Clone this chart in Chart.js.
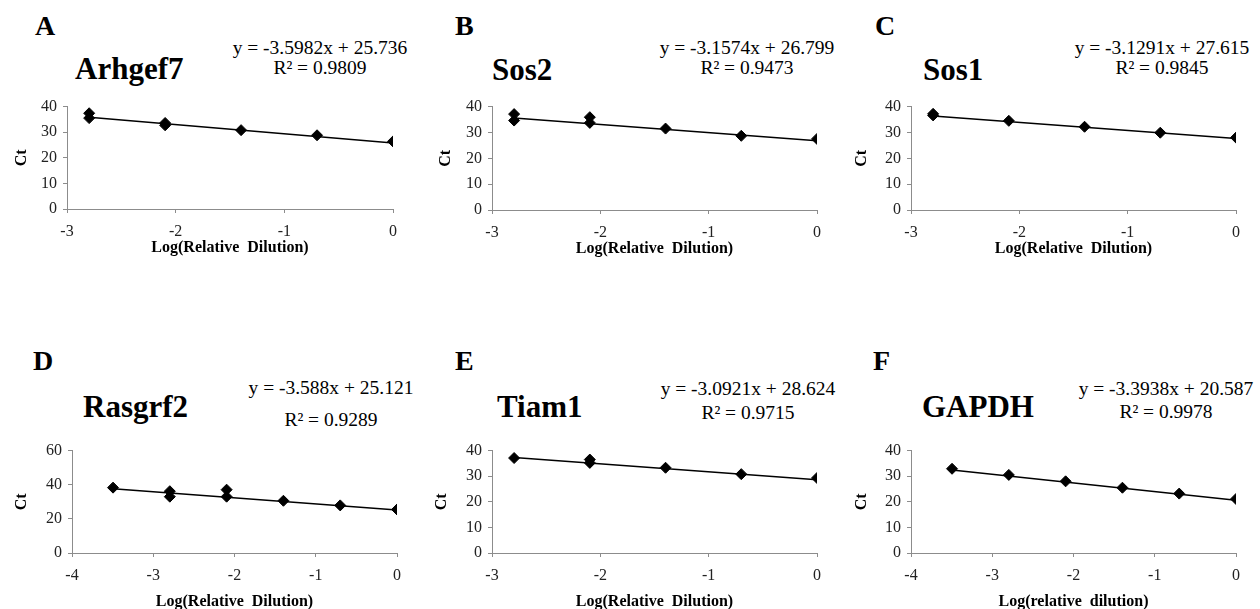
<!DOCTYPE html>
<html>
<head>
<meta charset="utf-8">
<script src="https://cdn.jsdelivr.net/npm/chart.js@4.4.0/dist/chart.umd.min.js"></script>
<style>
  html, body { margin: 0; padding: 0; background: #fff; overflow: hidden; }
  body { width: 1260px; height: 609px; position: relative; font-family: "Liberation Serif", Tinos, "Times New Roman", serif; color: #000; }
  .box { position: absolute; }
  .txt { position: absolute; line-height: 1; white-space: nowrap; }
  .bold { font-weight: bold; }
  .eq { width: 240px; text-align: center; font-size: 19.5px; }
</style>
</head>
<body>
<script>
// standard curves: Ct vs log of the 1:5 serial dilutions
const panelLetters = ["A", "B", "C", "D", "E", "F"];
const geneNames = ["Arhgef7", "Sos2", "Sos1", "Rasgrf2", "Tiam1", "GAPDH"];
const slopes = [-3.5982, -3.1574, -3.1291, -3.588, -3.0921, -3.3938];
const intercepts = [25.736, 26.799, 27.615, 25.121, 28.624, 20.587];
const rSquared = ["0.9809", "0.9473", "0.9845", "0.9289", "0.9715", "0.9978"];
const xTitles = ["Log(Relative  Dilution)", "Log(Relative  Dilution)", "Log(Relative  Dilution)",
                 "Log(Relative  Dilution)", "Log(Relative  Dilution)", "Log(relative  dilution)"];
const xMins = [-3, -3, -3, -4, -3, -4];
const yMaxes = [40, 40, 40, 60, 40, 40];
const ySteps = [10, 10, 10, 20, 10, 10];

const logDilA = [-2.796, -2.796, -2.097, -2.097, -1.398, -0.699, 0];
const ctA = [37.4, 35.5, 33.6, 32.7, 30.8, 28.8, 26.4];

const logDilB = [-2.796, -2.796, -2.097, -2.097, -1.398, -0.699, 0];
const ctB = [37.1, 34.6, 35.9, 33.7, 31.5, 28.7, 27.5];

const logDilC = [-2.796, -2.796, -2.097, -1.398, -0.699, 0];
const ctC = [37.2, 36.6, 34.5, 32.2, 29.9, 28.0];

const logDilD = [-3.495, -2.796, -2.796, -2.097, -2.097, -1.398, -0.699, 0];
const ctD = [38.3, 36.2, 33.0, 37.1, 33.0, 30.6, 27.9, 25.5];

const logDilE = [-2.796, -2.097, -2.097, -1.398, -0.699, 0];
const ctE = [37.1, 36.5, 35.2, 33.3, 30.8, 29.3];

const logDilF = [-3.495, -2.796, -2.097, -1.398, -0.699, 0];
const ctF = [32.9, 30.5, 28.0, 25.5, 23.2, 21.1];

const xSets = [logDilA, logDilB, logDilC, logDilD, logDilE, logDilF];
const ySets = [ctA, ctB, ctC, ctD, ctE, ctF];

// page geometry of each plot (axis lines) and its text
const frames = [
  { axL: 67,  axR: 393,  top: 103, bot: 209, ctX: 22,  row: 0 },
  { axL: 492, axR: 817,  top: 103, bot: 210, ctX: 446, row: 0 },
  { axL: 911, axR: 1236, top: 103, bot: 210, ctX: 862, row: 0 },
  { axL: 72,  axR: 397,  top: 447, bot: 553, ctX: 22,  row: 1 },
  { axL: 492, axR: 817,  top: 447, bot: 553, ctX: 442, row: 1 },
  { axL: 911, axR: 1236, top: 447, bot: 553, ctX: 862, row: 1 }
];
const letterPos = [[35, 12], [455, 12], [875, 12], [33, 347], [455, 347], [873, 347]];
const titlePos = [[75, 53], [492, 54], [923, 54], [83, 391], [497, 391], [922, 391]];
const eqPos = [[320, 38, 58], [747, 38, 58], [1162, 38, 58], [331, 378, 410], [748, 379, 403], [1166, 379, 402]];

Chart.defaults.font.family = '"Liberation Serif", Tinos, "Times New Roman", serif';
Chart.defaults.color = "#222";

function addText(cls, text, x, y, size) {
  const d = document.createElement("div");
  d.className = "txt " + cls;
  d.textContent = text;
  d.style.left = x + "px";
  d.style.top = y + "px";
  if (size) d.style.fontSize = size + "px";
  document.body.appendChild(d);
  return d;
}

function drawPanel(g, i) {
  addText("bold", panelLetters[i], letterPos[i][0], letterPos[i][1], 28);
  addText("bold", geneNames[i], titlePos[i][0], titlePos[i][1], 31);
  addText("eq", `y = ${slopes[i]}x + ${intercepts[i]}`, eqPos[i][0] - 120, eqPos[i][1]);
  addText("eq", `R² = ${rSquared[i]}`, eqPos[i][0] - 120, eqPos[i][2]);

  const yw = g.axL - g.ctX + 15;
  const xh = g.row ? 57 : 50;
  const padTop = 12, padRight = 20;
  const w = g.axR - g.ctX + 15 + padRight;
  const h = g.bot - g.top + padTop + xh;

  const wrap = document.createElement("div");
  wrap.className = "box";
  wrap.style.left = (g.ctX - 15) + "px";
  wrap.style.top = (g.top - padTop) + "px";
  const cv = document.createElement("canvas");
  cv.width = w;
  cv.height = h;
  cv.style.width = w + "px";
  cv.style.height = h + "px";
  wrap.appendChild(cv);
  document.body.appendChild(wrap);

  const xs = xSets[i], ys = ySets[i];
  const pts = xs.map((x, k) => ({ x, y: ys[k] }));
  const x0 = Math.min(...xs), x1 = Math.max(...xs);
  const fit = [x0, x1].map(x => ({ x, y: slopes[i] * x + intercepts[i] }));

  const axisGrey = "#8c8c8c";
  new Chart(cv, {
    type: "scatter",
    data: {
      datasets: [
        {
          data: pts,
          pointStyle: "rectRot",
          pointRadius: 5.5,
          pointBackgroundColor: "#000",
          pointBorderColor: "#000",
          pointBorderWidth: 1
        },
        {
          type: "line",
          data: fit,
          borderColor: "#000",
          borderWidth: 1.5,
          pointRadius: 0,
          fill: false
        }
      ]
    },
    options: {
      responsive: false,
      animation: false,
      devicePixelRatio: 1,
      layout: { padding: { left: 0, top: padTop, right: padRight, bottom: 0 } },
      plugins: { legend: { display: false }, tooltip: { enabled: false } },
      scales: {
        x: {
          type: "linear",
          min: xMins[i],
          max: 0,
          ticks: { stepSize: 1, font: { size: 16 }, padding: 9 },
          grid: { drawOnChartArea: false, drawTicks: true, tickLength: 4, color: axisGrey },
          border: { color: axisGrey, width: 1 },
          title: {
            display: true,
            text: xTitles[i],
            color: "#000",
            font: { size: 16, weight: "bold", lineHeight: 1 },
            padding: { top: 0, bottom: g.row ? 0 : 3 }
          },
          afterFit: s => { s.height = xh; }
        },
        y: {
          min: 0,
          max: yMaxes[i],
          ticks: { stepSize: ySteps[i], font: { size: 16 }, padding: 6 },
          grid: { drawOnChartArea: false, drawTicks: true, tickLength: 4, color: axisGrey },
          border: { color: axisGrey, width: 1 },
          title: {
            display: true,
            text: "Ct",
            color: "#000",
            font: { size: 16, weight: "bold", lineHeight: 1 },
            padding: { top: 7, bottom: 0 }
          },
          afterFit: s => { s.width = yw; }
        }
      }
    }
  });
}

// wait for the serif face so the canvas text does not fall back
document.fonts.load('16px "Liberation Serif"').finally(() => frames.forEach(drawPanel));
</script>
</body>
</html>
